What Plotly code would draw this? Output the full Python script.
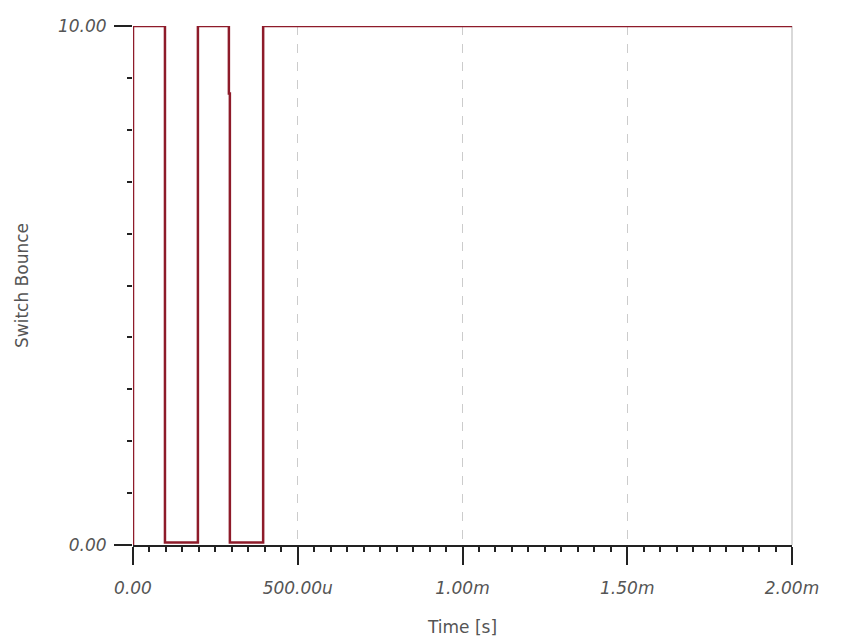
import plotly.graph_objects as go

# Switch bounce waveform (time in seconds, step edges)
time_s = [0.0, 0.0, 97e-6, 197e-6, 291e-6, 294e-6, 395e-6, 2.0e-3]
level = [0.0, 10.0, 0.05, 10.0, 8.7, 0.05, 10.0, 10.0]

x_tickvals = [0.0, 500e-6, 1.0e-3, 1.5e-3, 2.0e-3]
x_ticktext = ["0.00", "500.00u", "1.00m", "1.50m", "2.00m"]
x_midticks = [250e-6, 750e-6, 1.25e-3, 1.75e-3]
y_tickvals = [0.0, 10.0]
y_ticktext = ["0.00", "10.00"]
y_midticks = [5.0]

line_color = "#8e1b2a"
label_color = "#555555"
tick_font = dict(family="DejaVu Sans", size=17, color=label_color, style="italic")

fig = go.Figure()
fig.add_trace(go.Scatter(
    x=time_s, y=level, mode="lines", line_shape="hv",
    line=dict(color=line_color, width=2.5), cliponaxis=False,
    showlegend=False, hoverinfo="skip",
))

fig.update_layout(
    width=841, height=629,
    margin=dict(l=125, r=57, t=18, b=92),
    paper_bgcolor="white", plot_bgcolor="white",
    xaxis=dict(
        range=[0, 2.0e-3], tickvals=x_tickvals, ticktext=x_ticktext, automargin=False,
        ticks="outside", ticklen=18, tickcolor="#222222", tickwidth=1.5,
        showline=True, linecolor="#222222", linewidth=1.5,
        showgrid=True, gridcolor="#cccccc", griddash="dash", gridwidth=1,
        zeroline=False, tickfont=tick_font, ticklabelstandoff=9,
        minor=dict(dtick=50e-6, ticks="outside", ticklen=5, tickcolor="#222222", showgrid=False),
        title=dict(text="Time [s]", font=dict(family="DejaVu Sans", size=17, color=label_color), standoff=24),
    ),
    xaxis2=dict(
        overlaying="x", matches="x", side="bottom", range=[0, 2.0e-3], automargin=False,
        tickvals=x_midticks, showticklabels=False, ticks="outside", ticklen=9,
        tickcolor="#222222", tickwidth=1.2, showgrid=False, showline=False, zeroline=False,
    ),
    yaxis=dict(
        range=[0, 10], tickvals=y_tickvals, ticktext=y_ticktext, automargin=False,
        ticks="outside", ticklen=18, tickcolor="#222222", tickwidth=1.5,
        showline=False, showgrid=True, gridcolor="#cccccc", gridwidth=1,
        zeroline=False, tickfont=tick_font, ticklabelstandoff=4,
        minor=dict(dtick=1, ticks="outside", ticklen=5, tickcolor="#222222", showgrid=False),
        title=dict(text="Switch Bounce", font=dict(family="DejaVu Sans", size=17, color=label_color), standoff=24),
    ),
    yaxis2=dict(
        overlaying="y", matches="y", side="left", range=[0, 10], automargin=False,
        tickvals=y_midticks, showticklabels=False, ticks="outside", ticklen=9,
        tickcolor="#222222", tickwidth=1.2, showgrid=False, showline=False, zeroline=False,
    ),
)

# right border line (solid light gray)
fig.add_shape(type="line", xref="paper", yref="paper", x0=1, x1=1, y0=0, y1=1,
              line=dict(color="#cccccc", width=1.5), layer="below")

fig.write_html("out.html")
